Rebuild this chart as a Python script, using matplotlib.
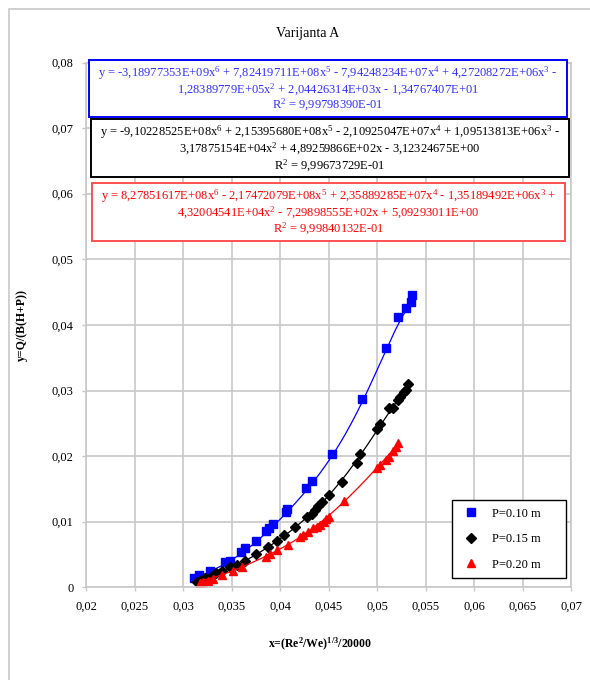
import numpy as np
import matplotlib
matplotlib.use("Agg")
import matplotlib.pyplot as plt
from matplotlib.patches import Rectangle
from matplotlib.ticker import FuncFormatter, MultipleLocator

plt.rcParams['font.family'] = ['Liberation Serif', 'DejaVu Serif']
plt.rcParams['mathtext.fontset'] = 'custom'
plt.rcParams['mathtext.rm'] = 'Liberation Serif'
plt.rcParams['mathtext.it'] = 'Liberation Serif:italic'
plt.rcParams['mathtext.bf'] = 'Liberation Serif:bold'

# izmjereni podaci, P = 0.10 m
x_010 = [0.0311, 0.03166, 0.03283, 0.03431, 0.03483, 0.03596, 0.03644, 0.0375,
         0.03854, 0.03888, 0.03929, 0.0406, 0.04073, 0.04263, 0.04335, 0.04531,
         0.04843, 0.0509, 0.05218, 0.05304, 0.05348, 0.05362]
y_010 = [0.00137, 0.00187, 0.00253, 0.00381, 0.00406, 0.00543, 0.00594, 0.0071,
         0.00863, 0.009, 0.0096, 0.01152, 0.01189, 0.0151, 0.0162, 0.0203,
         0.02866, 0.03648, 0.04125, 0.04253, 0.04354, 0.04456]

# P = 0.15 m
x_015 = [0.03145, 0.03173, 0.03225, 0.03294, 0.03345, 0.03397, 0.03482, 0.03558,
         0.03637, 0.0375, 0.03878, 0.0397, 0.04039, 0.04153, 0.04283, 0.04325,
         0.04359, 0.04393, 0.04428, 0.04507, 0.0464, 0.04789, 0.04823, 0.05005,
         0.05029, 0.05125, 0.05166, 0.05218, 0.05235, 0.05276, 0.05297, 0.05321]
y_015 = [0.00085, 0.001, 0.00137, 0.00172, 0.00213, 0.00253, 0.00314, 0.0034,
         0.00406, 0.00508, 0.00619, 0.0071, 0.00797, 0.00924, 0.01067, 0.01113,
         0.01178, 0.0124, 0.01305, 0.01407, 0.0161, 0.019, 0.0203, 0.02413,
         0.0249, 0.02729, 0.02738, 0.02855, 0.02896, 0.02972, 0.03008, 0.03099]

# P = 0.20 m
x_020 = [0.03173, 0.03207, 0.03259, 0.0331, 0.03397, 0.03517, 0.03613, 0.03854,
         0.03895, 0.0397, 0.04084, 0.04204, 0.04238, 0.0429, 0.04341, 0.04383,
         0.04417, 0.04452, 0.04479, 0.04503, 0.04661, 0.04995, 0.05029, 0.05091,
         0.05125, 0.05167, 0.05201, 0.05218]
y_020 = [0.00061, 0.00085, 0.00096, 0.00122, 0.00187, 0.00253, 0.00305, 0.00467,
         0.00508, 0.00569, 0.00645, 0.00772, 0.00797, 0.00838, 0.009, 0.00924,
         0.0095, 0.01, 0.01036, 0.01076, 0.01316, 0.01814, 0.01864, 0.0194,
         0.01991, 0.02082, 0.02143, 0.02195]

# koeficijenti polinoma 6. reda (s grafa), od x^6 do x^0
k_010 = [-3.18977353E+09, 7.82419711E+08, -7.94248234E+07, 4.27208272E+06,
         -1.28389779E+05, 2.04426314E+03, -1.34767407E+01]
k_015 = [-9.10228525E+08, 2.15395680E+08, -2.10925047E+07, 1.09513813E+06,
         -3.17875154E+04, 4.89259866E+02, -3.12324675E+00]
k_020 = [8.27851617E+08, -2.17472079E+08, 2.35889285E+07, -1.35189492E+06,
         4.32004541E+04, -7.29898555E+02, 5.09293011E+00]

jednadzbe = [
    ["y = -3,18977353E+09x$^{6}$ + 7,82419711E+08x$^{5}$ - 7,94248234E+07x$^{4}$ + 4,27208272E+06x$^{3}$ -",
     "1,28389779E+05x$^{2}$ + 2,04426314E+03x - 1,34767407E+01",
     "R$^{2}$ = 9,99798390E-01"],
    ["y = -9,10228525E+08x$^{6}$ + 2,15395680E+08x$^{5}$ - 2,10925047E+07x$^{4}$ + 1,09513813E+06x$^{3}$ -",
     "3,17875154E+04x$^{2}$ + 4,89259866E+02x - 3,12324675E+00",
     "R$^{2}$ = 9,99673729E-01"],
    ["y = 8,27851617E+08x$^{6}$ - 2,17472079E+08x$^{5}$ + 2,35889285E+07x$^{4}$ - 1,35189492E+06x$^{3}$ +",
     "4,32004541E+04x$^{2}$ - 7,29898555E+02x + 5,09293011E+00",
     "R$^{2}$ = 9,99840132E-01"],
]

W, H = 590, 680
fig = plt.figure(figsize=(W / 100, H / 100), dpi=100)

def fx(px):
    return px / W

def fy(py):
    return 1 - py / H

# okvir grafa
fig.patches.append(Rectangle((fx(9), -0.1), 1.2, fy(9) + 0.1, transform=fig.transFigure,
                             fill=False, edgecolor='#c8c8c8', lw=1.2))

ax = fig.add_axes([fx(86), fy(587.3), fx(571) - fx(86), fy(62.5) - fy(587.3)])

serije = [
    (x_010, y_010, k_010, 'blue', 's', 5.8, 'P=0.10 m'),
    (x_015, y_015, k_015, 'black', 'D', 4.6, 'P=0.15 m'),
    (x_020, y_020, k_020, 'red', '^', 6.0, 'P=0.20 m'),
]
for xs, ys, k, boja, mk, ms, ime in serije:
    xx = np.linspace(min(xs), max(xs), 200)
    ax.plot(xx, np.polyval(k, xx), color=boja, lw=0.9)
    ax.plot(xs, ys, linestyle='none', marker=mk, color=boja, markersize=ms, label=ime)

ax.set_xlim(0.02, 0.07)
ax.set_ylim(0, 0.08)
ax.xaxis.set_major_locator(MultipleLocator(0.005))
ax.yaxis.set_major_locator(MultipleLocator(0.01))
fmt = FuncFormatter(lambda v, p: ('%g' % round(v, 4)).replace('.', ','))
ax.xaxis.set_major_formatter(fmt)
ax.yaxis.set_major_formatter(fmt)
ax.grid(True, color='#c8c8c8', lw=1.2)
ax.set_axisbelow(True)
for s in ax.spines.values():
    s.set_color('#c8c8c8')
    s.set_linewidth(1.2)
ax.tick_params(colors='#c8c8c8', labelcolor='black', labelsize=9, length=3, width=1)
ax.tick_params(axis='x', pad=7)
ax.tick_params(axis='y', pad=6)

# legenda s vlastitim okvirom
okvir_leg = Rectangle((fx(452), fy(578)), fx(566) - fx(452), fy(500) - fy(578),
                      transform=fig.transFigure, facecolor='white',
                      edgecolor='black', lw=1.0, zorder=4, clip_on=False)
ax.add_patch(okvir_leg)
leg = ax.legend(loc='upper left', bbox_to_anchor=(fx(456), fy(504)),
                bbox_transform=fig.transFigure, frameon=False,
                fontsize=9, handlelength=1.8, handletextpad=0.8,
                labelspacing=1.07, borderpad=0.3, borderaxespad=0)
leg.set_zorder(6)

# okviri s jednadzbama trenda
okviri = [
    (89, 567, 59.5, 116.7, 'blue', '#3030ff', [72.3, 89.0, 104.8]),
    (90.7, 568.7, 119.3, 177, 'black', 'black', [131.2, 148.5, 165]),
    (91.7, 565, 182.7, 241, '#ff5050', 'red', [195.5, 212.5, 228.5]),
]
for (x0, x1, y0, y1, rub, boja_t, redovi), tekst in zip(okviri, jednadzbe):
    fig.patches.append(Rectangle((fx(x0), fy(y1)), fx(x1) - fx(x0), fy(y0) - fy(y1),
                                 transform=fig.transFigure, facecolor='white',
                                 edgecolor=rub, lw=1.4, zorder=5))
    for yr, red in zip(redovi, tekst):
        fig.text(fx((x0 + x1) / 2), fy(yr + 4), red, color=boja_t, fontsize=9.0,
                 ha='center', va='baseline', zorder=6)

fig.text(fx(308), fy(33), 'Varijanta A', fontsize=10, ha='center', va='center')
fig.text(fx(22), fy(325), 'y=Q/(B(H+P))', fontsize=8.5, fontweight='bold',
         rotation=90, ha='center', va='center')
fig.text(fx(320), fy(644), 'x=(Re$^{\\mathbf{2}}$/We)$^{\\mathbf{1/3}}$/20000', fontsize=8.5,
         fontweight='bold', ha='center', va='center')

fig.savefig('out.png', dpi=100)
